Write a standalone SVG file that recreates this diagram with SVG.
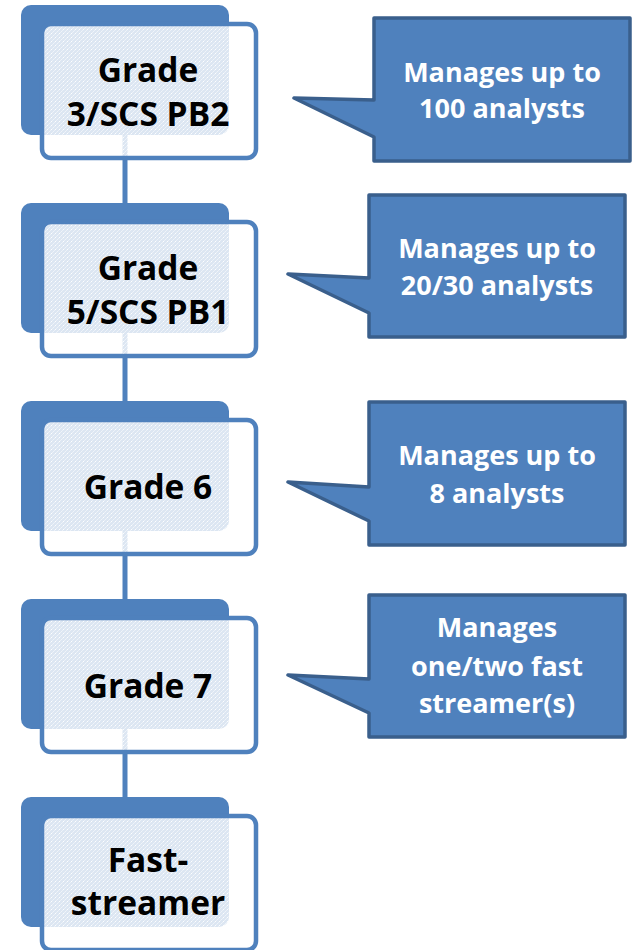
<svg xmlns="http://www.w3.org/2000/svg" width="635" height="950" viewBox="0 0 635 950">
  <defs>
    <!-- light dithered glaze used for the front cards -->
    <pattern id="glaze" width="4" height="4" patternUnits="userSpaceOnUse">
      <rect width="4" height="4" fill="#ffffff" fill-opacity="0.8"/>
      <rect x="0" y="0" width="1" height="1" fill="#ffffff" fill-opacity="0.45"/>
      <rect x="2" y="2" width="1" height="1" fill="#ffffff" fill-opacity="0.45"/>
      <rect x="1" y="3" width="1" height="1" fill="#ffffff" fill-opacity="0.55"/>
      <rect x="3" y="1" width="1" height="1" fill="#ffffff" fill-opacity="0.95"/>
    </pattern>
    <style>
      .back { fill: #4f81bd; }
      .card { fill: url(#glaze); stroke: #4f81bd; stroke-width: 4.5; }
      .label { font-family: "Open Sans", "Noto Sans", "Liberation Sans", sans-serif; font-weight: 700; font-size: 33.5px; fill: #000000; text-anchor: middle; }
      .call { fill: #4f81bd; stroke: #3a5f8c; stroke-width: 3.5; stroke-linejoin: round; }
      .note { font-family: "Open Sans", "Noto Sans", "Liberation Sans", sans-serif; font-weight: 700; font-size: 27px; fill: #ffffff; text-anchor: middle; }
      .link { stroke: #4f81bd; stroke-width: 5; fill: none; }
    </style>
  </defs>

  <!-- vertical links between the grade cards -->
  <g id="connectors">
    <line class="link" x1="125" y1="130" x2="125" y2="225"/>
    <line class="link" x1="125" y1="328" x2="125" y2="423"/>
    <line class="link" x1="125" y1="526" x2="125" y2="621"/>
    <line class="link" x1="125" y1="724" x2="125" y2="819"/>
  </g>

  <g id="grade3">
    <rect class="back" x="21" y="5" width="208" height="130" rx="10"/>
    <rect class="card" x="42" y="24" width="214" height="134" rx="9"/>
    <text class="label" x="148" y="82">Grade</text>
    <text class="label" x="148" y="126">3/SCS PB2</text>
  </g>

  <g id="grade5">
    <rect class="back" x="21" y="203" width="208" height="130" rx="10"/>
    <rect class="card" x="42" y="222" width="214" height="134" rx="9"/>
    <text class="label" x="148" y="280">Grade</text>
    <text class="label" x="148" y="324">5/SCS PB1</text>
  </g>

  <g id="grade6">
    <rect class="back" x="21" y="401" width="208" height="130" rx="10"/>
    <rect class="card" x="42" y="420" width="214" height="134" rx="9"/>
    <text class="label" x="148" y="499">Grade 6</text>
  </g>

  <g id="grade7">
    <rect class="back" x="21" y="599" width="208" height="130" rx="10"/>
    <rect class="card" x="42" y="618" width="214" height="134" rx="9"/>
    <text class="label" x="148" y="698">Grade 7</text>
  </g>

  <g id="faststreamer">
    <rect class="back" x="21" y="797" width="208" height="130" rx="10"/>
    <rect class="card" x="42" y="816" width="214" height="134" rx="9"/>
    <text class="label" x="148" y="872">Fast-</text>
    <text class="label" x="148" y="915">streamer</text>
  </g>

  <!-- callouts with tails pointing at the cards -->
  <g id="note-grade3">
    <path class="call" d="M374 18 H630 V161 H374 V137 L294 98 L374 100 Z"/>
    <text class="note" x="502" y="82">Manages up to</text>
    <text class="note" x="502" y="118">100 analysts</text>
  </g>

  <g id="note-grade5">
    <path class="call" d="M369 195 H625 V337 H369 V313 L288 274 L369 278 Z"/>
    <text class="note" x="497" y="258">Manages up to</text>
    <text class="note" x="497" y="295">20/30 analysts</text>
  </g>

  <g id="note-grade6">
    <path class="call" d="M369 402 H625 V545 H369 V521 L288 482 L369 487 Z"/>
    <text class="note" x="497" y="465">Manages up to</text>
    <text class="note" x="497" y="503">8 analysts</text>
  </g>

  <g id="note-grade7">
    <path class="call" d="M369 595 H625 V737 H369 V713 L288 675 L369 679 Z"/>
    <text class="note" x="497" y="637">Manages</text>
    <text class="note" x="497" y="676">one/two fast</text>
    <text class="note" x="497" y="713">streamer(s)</text>
  </g>
</svg>
